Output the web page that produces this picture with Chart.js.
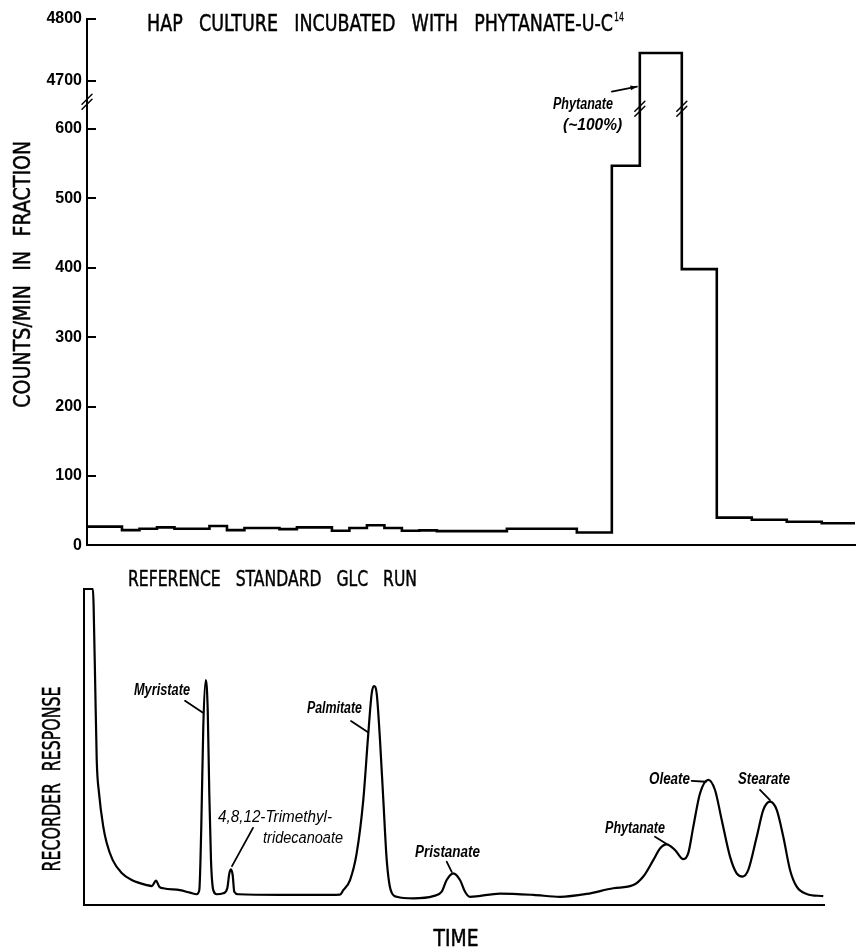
<!DOCTYPE html>
<html>
<head>
<meta charset="utf-8">
<script src="https://cdn.jsdelivr.net/npm/chart.js"></script>
<style>
  html, body { margin: 0; padding: 0; background: #fff; }
  #wrap { position: relative; width: 858px; height: 947px; overflow: hidden; background: #fff; }
  canvas { position: absolute; left: 0; }
  #c1 { top: 0; }
  #c2 { top: 560px; }
</style>
</head>
<body>
<div id="wrap">
  <canvas id="c1" width="858" height="560"></canvas>
  <canvas id="c2" width="858" height="387"></canvas>
</div>
<script>
// ---------------- DATA ----------------
// Upper panel: radioactivity per collected fraction (step histogram)
const FRACTION_EDGES = [0, 2, 3, 4, 5, 7, 8, 9, 11, 12, 14, 15, 16, 17, 18, 19, 20, 24, 28, 30, 31.6, 34, 36, 38, 40, 42, 43.9];
const COUNTS        = [27, 22, 24, 26, 24, 28, 22, 25, 23.5, 26, 21, 25, 29, 25, 21, 21.6, 20.6, 24, 18.6, 547, 4745, 398, 40, 37, 34, 32, 32];
const Y_TICKS = [0, 100, 200, 300, 400, 500, 600, 4700, 4800];

// Lower panel: reference GLC recorder trace (arbitrary units)
const GLC_TIME = [0.1, 1.2, 1.45, 1.72, 2.03, 2.61, 3.07, 3.88, 5.09, 6.45,
  8.47, 9.19, 9.73, 10.18, 10.72, 12.97, 14.32, 15.23, 15.58, 15.85,
  16.12, 16.45, 16.72, 16.93, 17.16, 17.47, 17.93, 18.82, 19.36, 19.64,
  19.86, 20.09, 20.31, 20.85, 26.49, 31.89, 34.59, 35.04, 35.95, 36.85,
  37.74, 38.42, 38.88, 39.19, 39.55, 40.0, 40.45, 40.91, 41.45, 42.26,
  44.5, 47.2, 48.34, 49.01, 49.91, 50.81, 51.49, 52.16, 56.22, 60.72,
  64.32, 67.93, 71.53, 74.23, 75.58, 76.93, 77.84, 78.74, 79.86, 80.99,
  81.66, 82.34, 83.24, 84.36, 85.27, 86.18, 87.3, 88.2, 89.01, 89.77,
  90.91, 91.8, 92.7, 93.61, 94.5, 95.41, 96.31, 97.66, 99.9];
const GLC_RESPONSE = [100, 100, 77.5, 45.9, 35.4, 24.7, 19.6, 14.2, 10.1, 7.9,
  6.3, 6.0, 7.7, 5.8, 5.3, 4.7, 3.9, 3.4, 4.7, 24.8,
  56.4, 71.2, 61.7, 35.4, 14.2, 4.7, 3.4, 3.7, 5.3, 10.0,
  11.3, 9.5, 4.2, 3.4, 3.2, 3.2, 3.3, 4.7, 7.9, 16.4,
  33.2, 54.3, 67.0, 69.3, 67.0, 52.2, 33.2, 14.2, 4.7, 2.6,
  2.1, 2.8, 4.2, 7.9, 10.0, 7.9, 4.2, 2.6, 3.6, 3.2,
  2.6, 3.5, 5.3, 6.3, 9.0, 14.2, 17.9, 19.2, 17.4, 14.5,
  16.4, 24.8, 35.3, 39.6, 36.4, 26.9, 15.3, 10.0, 9.0, 11.1,
  21.6, 30.1, 32.7, 30.1, 21.6, 11.1, 5.8, 3.5, 2.8];

// ---------------- AXIS BREAK (scale design) ----------------
const BREAK_LOW = 600, BREAK_HIGH = 4700, AXIS_TOP = 4800;
const BREAK_GAP = 69.5;     // virtual units occupied by the break
const UPPER_RATIO = 0.889;  // compression of the segment above the break
function toVirtual(v) {
  if (v <= BREAK_LOW) return v;
  if (v >= BREAK_HIGH) return BREAK_LOW + BREAK_GAP + (v - BREAK_HIGH) * UPPER_RATIO;
  return BREAK_LOW + (v - BREAK_LOW) / (BREAK_HIGH - BREAK_LOW) * BREAK_GAP;
}
function fromVirtual(u) {
  if (u <= BREAK_LOW) return u;
  if (u >= BREAK_LOW + BREAK_GAP) return BREAK_HIGH + (u - BREAK_LOW - BREAK_GAP) / UPPER_RATIO;
  return BREAK_LOW + (u - BREAK_LOW) / BREAK_GAP * (BREAK_HIGH - BREAK_LOW);
}
class BrokenScale extends Chart.LinearScale {
  determineDataLimits() { this.min = 0; this.max = toVirtual(AXIS_TOP); }
  buildTicks() { this.start = this.min; this.end = this.max; return Y_TICKS.map(v => ({ value: v })); }
  getPixelForValue(value) { return this.getPixelForDecimal((toVirtual(value) - this._startValue) / this._valueRange); }
  getValueForPixel(pixel) { return fromVirtual(this._startValue + this.getDecimalForPixel(pixel) * this._valueRange); }
}
BrokenScale.id = 'broken';
BrokenScale.defaults = Chart.LinearScale.defaults;
Chart.register(BrokenScale);

// ---------------- TEXT HELPERS ----------------
const CAPS = '"DejaVu Sans", "Liberation Sans", sans-serif';
const LAB = '"Liberation Sans", Arial, sans-serif';
function fitText(ctx, text, x, y, width, font, o = {}) {
  ctx.save();
  ctx.font = font;
  if (o.wordSpacing && 'wordSpacing' in ctx) ctx.wordSpacing = o.wordSpacing;
  const w = ctx.measureText(text).width;
  ctx.translate(x, y);
  if (o.rotate) ctx.rotate(o.rotate);
  ctx.scale(width / w, 1);
  ctx.textAlign = o.align || 'center';
  ctx.textBaseline = o.baseline || 'alphabetic';
  ctx.fillStyle = '#000';
  ctx.fillText(text, 0, 0);
  if (o.stroke) { ctx.strokeStyle = '#000'; ctx.lineWidth = o.stroke; ctx.strokeText(text, 0, 0); }
  ctx.restore();
}
function line(ctx, x1, y1, x2, y2, w) {
  ctx.save(); ctx.strokeStyle = '#000'; ctx.lineWidth = w || 1.6; ctx.lineCap = 'round';
  ctx.beginPath(); ctx.moveTo(x1, y1); ctx.lineTo(x2, y2); ctx.stroke(); ctx.restore();
}
function arrow(ctx, x1, y1, x2, y2) {
  line(ctx, x1, y1, x2, y2, 1.6);
  const a = Math.atan2(y2 - y1, x2 - x1), L = 7, s = 0.35;
  ctx.save(); ctx.fillStyle = '#000'; ctx.beginPath();
  ctx.moveTo(x2, y2);
  ctx.lineTo(x2 - L * Math.cos(a - s), y2 - L * Math.sin(a - s));
  ctx.lineTo(x2 - L * Math.cos(a + s), y2 - L * Math.sin(a + s));
  ctx.closePath(); ctx.fill(); ctx.restore();
}
function slashes(ctx, cx, cy) {
  for (const d of [-2.5, 2.5]) line(ctx, cx - 5, cy + d + 5, cx + 5, cy + d - 5, 1.5);
}

// ---------------- UPPER PANEL ----------------
const TOP_NOTES = { text1: { x: 28.35, y: 2671, w: 60 }, text2: { x: 28.9, y: 895, w: 59 },
                    arrow: { x1: 30.0, y1: 3774, x2: 31.44, y2: 4194 } };
const topDecor = {
  id: 'topDecor',
  afterDraw(chart) {
    const { ctx, chartArea: ca, scales: { x, y } } = chart;
    ctx.save();
    ctx.strokeStyle = '#000'; ctx.lineWidth = 2;
    y.ticks.forEach(t => {
      const py = Math.round(y.getPixelForValue(t.value));
      ctx.beginPath(); ctx.moveTo(ca.left, py); ctx.lineTo(ca.left + 9, py); ctx.stroke();
    });
    ctx.restore();
    const yb = (y.getPixelForValue(BREAK_LOW) + y.getPixelForValue(BREAK_HIGH)) / 2;
    slashes(ctx, ca.left, yb - 3);
    const pk = COUNTS.indexOf(Math.max(...COUNTS));
    [FRACTION_EDGES[pk], FRACTION_EDGES[pk + 1]].forEach(e => slashes(ctx, x.getPixelForValue(e), yb + 4));

    // title
    const tx = 147, tw = 466;
    fitText(ctx, 'HAP CULTURE INCUBATED WITH PHYTANATE-U-C', tx + tw / 2, 31, tw, '23px ' + CAPS,
            { wordSpacing: '14px', stroke: 0.5 });
    fitText(ctx, '14', tx + tw + 1, 21, 10, '13px ' + CAPS, { align: 'left', stroke: 0.3 });
    // y title
    fitText(ctx, 'COUNTS/MIN IN FRACTION', 30, (ca.top + ca.bottom) / 2 - 8, 267, '23px ' + CAPS,
            { rotate: -Math.PI / 2, wordSpacing: '10px', stroke: 0.5 });
    // annotation
    const n = TOP_NOTES;
    fitText(ctx, 'Phytanate', x.getPixelForValue(n.text1.x), y.getPixelForValue(n.text1.y), n.text1.w,
            'italic bold 16px ' + LAB, { baseline: 'middle' });
    fitText(ctx, '(~100%)', x.getPixelForValue(n.text2.x), y.getPixelForValue(n.text2.y), n.text2.w,
            'italic bold 16px ' + LAB, { baseline: 'middle' });
    arrow(ctx, x.getPixelForValue(n.arrow.x1), y.getPixelForValue(n.arrow.y1),
               x.getPixelForValue(n.arrow.x2), y.getPixelForValue(n.arrow.y2));
  }
};

new Chart(document.getElementById('c1'), {
  type: 'line',
  data: {
    datasets: [{
      data: FRACTION_EDGES.map((e, i) => ({ x: e, y: COUNTS[i] })),
      stepped: true,
      borderColor: '#000', borderWidth: 2.6, pointRadius: 0, fill: false
    }]
  },
  options: {
    responsive: false, animation: false, devicePixelRatio: 1,
    layout: { padding: { top: 19, right: 3, bottom: 12, left: 0 } },
    plugins: { legend: { display: false }, tooltip: { enabled: false } },
    scales: {
      x: {
        type: 'linear', min: 0, max: FRACTION_EDGES[FRACTION_EDGES.length - 1],
        ticks: { display: false }, grid: { display: false, drawTicks: false },
        border: { display: true, color: '#000', width: 2 },
        afterFit: s => { s.height = 0; }
      },
      y: {
        type: 'broken', position: 'left',
        ticks: { autoSkip: false, padding: 5, color: '#000', font: { family: LAB, size: 16, weight: 'bold' },
                 callback: v => String(v) },
        grid: { display: false, drawTicks: false },
        border: { display: true, color: '#000', width: 2 },
        afterFit: s => { s.width = 87; }
      }
    }
  },
  plugins: [topDecor]
});

// ---------------- LOWER PANEL ----------------
const GLC_LABELS = [
  { text: 'Myristate', t: 10.54, r: 67.7, w: 56, bold: true },
  { text: 'Palmitate', t: 33.85, r: 62.0, w: 55, bold: true },
  { text: '4,8,12-Trimethyl-', t: 25.81, r: 27.8, w: 114, bold: false },
  { text: 'tridecanoate', t: 29.6, r: 20.9, w: 80, bold: false },
  { text: 'Pristanate', t: 49.12, r: 16.5, w: 65, bold: true },
  { text: 'Phytanate', t: 74.46, r: 24.1, w: 60, bold: true },
  { text: 'Oleate', t: 79.12, r: 39.6, w: 41, bold: true },
  { text: 'Stearate', t: 91.89, r: 39.6, w: 52, bold: true }
];
const GLC_LEADERS = [
  [13.65, 64.6, 16.08, 60.8], [36.08, 58.2, 38.38, 54.7], [22.84, 24.4, 20.0, 12.3],
  [49.01, 13.7, 49.69, 10.5], [77.16, 21.6, 78.74, 19.3], [82.12, 39.3, 84.05, 39.0],
  [91.35, 36.4, 92.7, 33.2]
];
const bottomDecor = {
  id: 'bottomDecor',
  afterDraw(chart) {
    const { ctx, chartArea: ca, scales: { x, y } } = chart;
    fitText(ctx, 'REFERENCE STANDARD GLC RUN', 272.5, 26, 289, '22px ' + CAPS, { wordSpacing: '14px', stroke: 0.5 });
    fitText(ctx, 'RECORDER RESPONSE', 60, (ca.top + ca.bottom) / 2 + 32, 185, '24px ' + CAPS,
            { rotate: -Math.PI / 2, wordSpacing: '10px', stroke: 0.5 });
    fitText(ctx, 'TIME', 456, 386, 45, '23px ' + CAPS, { stroke: 0.5 });
    GLC_LABELS.forEach(l => {
      fitText(ctx, l.text, x.getPixelForValue(l.t), y.getPixelForValue(l.r), l.w,
              'italic ' + (l.bold ? 'bold ' : '') + '16px ' + LAB, { baseline: 'middle' });
    });
    GLC_LEADERS.forEach(([t1, r1, t2, r2]) =>
      line(ctx, x.getPixelForValue(t1), y.getPixelForValue(r1), x.getPixelForValue(t2), y.getPixelForValue(r2), 1.8));
  }
};

new Chart(document.getElementById('c2'), {
  type: 'line',
  data: {
    datasets: [{
      data: GLC_TIME.map((t, i) => ({ x: t, y: GLC_RESPONSE[i] })),
      cubicInterpolationMode: 'monotone',
      borderColor: '#000', borderWidth: 2.2, pointRadius: 0, fill: false, clip: 4
    }]
  },
  options: {
    responsive: false, animation: false, devicePixelRatio: 1,
    layout: { padding: { top: 29, right: 34, bottom: 42, left: 0 } },
    plugins: { legend: { display: false }, tooltip: { enabled: false } },
    scales: {
      x: {
        type: 'linear', min: 0, max: 100,
        ticks: { display: false }, grid: { display: false, drawTicks: false },
        border: { display: true, color: '#000', width: 2 },
        afterFit: s => { s.height = 0; }
      },
      y: {
        type: 'linear', min: 0, max: 100,
        ticks: { display: false }, grid: { display: false, drawTicks: false },
        border: { display: true, color: '#000', width: 2 },
        afterFit: s => { s.width = 84; }
      }
    }
  },
  plugins: [bottomDecor]
});
</script>
</body>
</html>
